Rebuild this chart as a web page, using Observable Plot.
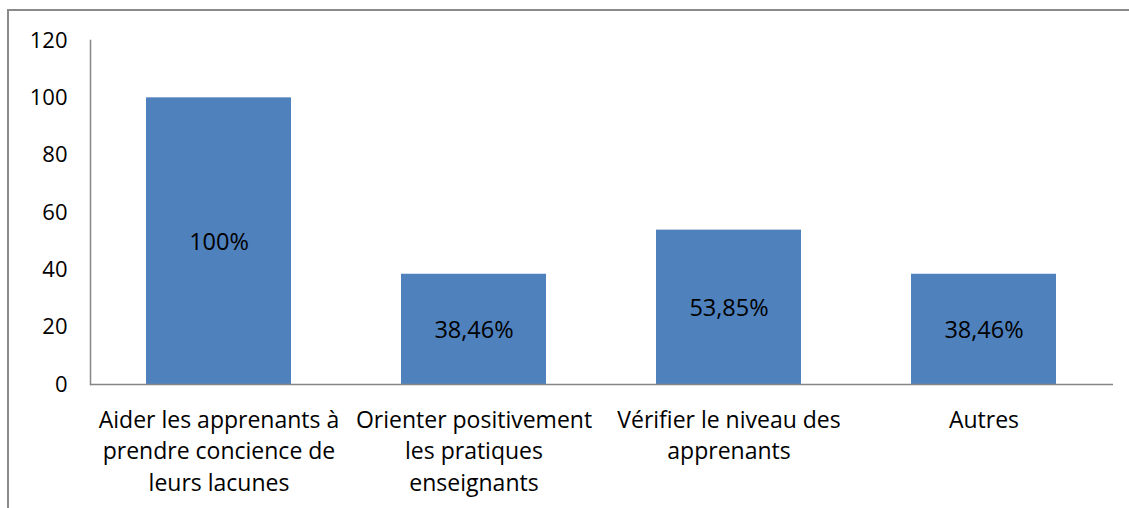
<!DOCTYPE html>
<html>
<head>
<meta charset="utf-8">
<script src="https://cdn.jsdelivr.net/npm/d3@7"></script>
<script src="https://cdn.jsdelivr.net/npm/@observablehq/plot@0.6"></script>
<style>
  html, body { margin: 0; padding: 0; background: #fff; overflow: hidden; }
  #wrap { position: relative; width: 1129px; height: 508px; overflow: hidden; }
  #border { position: absolute; left: 7px; top: 9px; width: 2000px; height: 2000px;
            border-left: 2px solid #8a8a8a; border-top: 2px solid #8a8a8a; pointer-events: none; }
  svg { font-family: "Open Sans", Lato, sans-serif; }
</style>
</head>
<body>
<div id="wrap"><div id="border"></div></div>
<script>
const categories = [
  "Aider les apprenants à\nprendre concience de\nleurs lacunes",
  "Orienter positivement\nles pratiques\nenseignants",
  "Vérifier le niveau des\napprenants",
  "Autres"
];
const values = [100, 38.46, 53.85, 38.46];
const valueLabels = ["100%", "38,46%", "53,85%", "38,46%"];
const yTicks = [0, 20, 40, 60, 80, 100, 120];

const data = categories.map((c, i) => ({cat: c, v: values[i], label: valueLabels[i]}));

const chart = Plot.plot({
  width: 1129,
  height: 508,
  marginLeft: 90,
  marginRight: 16,
  marginTop: 40,
  marginBottom: 124,
  style: {background: "transparent", overflow: "visible"},
  x: {domain: categories, paddingInner: 0.43, paddingOuter: 0.215, label: null},
  y: {domain: [0, 120], label: null},
  marks: [
    Plot.barY(data, {x: "cat", y: "v", fill: "#4F81BD"}),
    Plot.text(data, {x: "cat", y: d => d.v / 2, text: "label", fontSize: 23.5, dy: 1, fill: "#000"}),
    Plot.frame({anchor: "left", stroke: "#868686", strokeWidth: 1.5}),
    Plot.ruleY([0], {stroke: "#868686", strokeWidth: 1.5}),
    Plot.axisY({ticks: yTicks, tickSize: 0, tickPadding: 23, fontSize: 22, fill: "#000", label: null}),
    Plot.axisX({tickSize: 0, tickPadding: 21, fontSize: 23, lineHeight: 1.37, fill: "#000", label: null})
  ]
});
document.getElementById("wrap").appendChild(chart);
</script>
</body>
</html>
